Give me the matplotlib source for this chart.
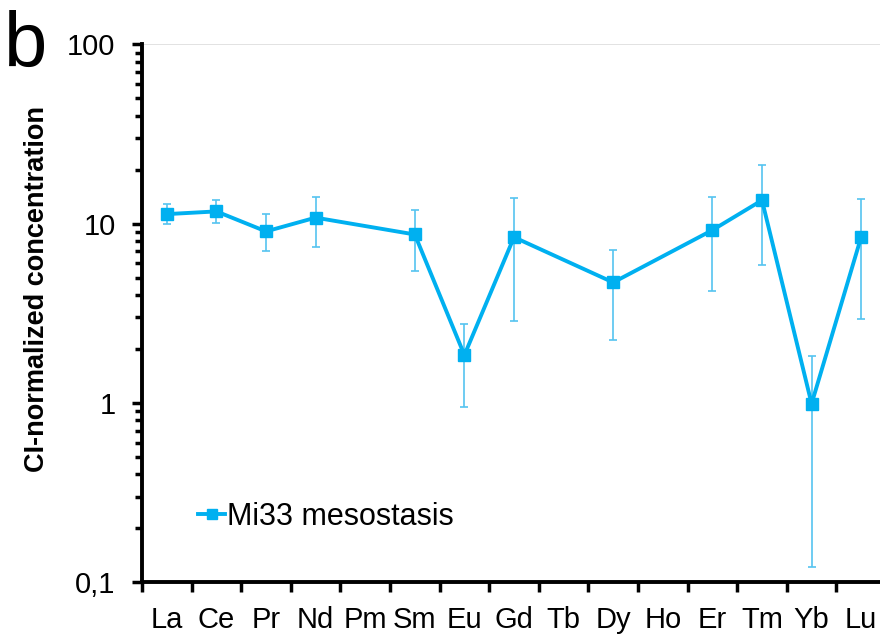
import numpy as np
import matplotlib
matplotlib.use("Agg")
from matplotlib import pyplot as plt
from matplotlib.ticker import FixedLocator, NullFormatter, LogLocator

plt.rcParams['font.family'] = ['Liberation Sans', 'DejaVu Sans']

elements = ["La", "Ce", "Pr", "Nd", "Pm", "Sm", "Eu", "Gd", "Tb", "Dy", "Ho", "Er", "Tm", "Yb", "Lu"]
# CI-normalized values (None = not measured)
conc = [11.3, 11.7, 9.05, 10.8, None, 8.7, 1.85, 8.4, None, 4.7, None, 9.2, 13.5, 0.99, 8.44]
err_hi = [12.8, 13.5, 11.3, 14.0, None, 11.9, 2.74, 13.9, None, 7.1, None, 14.1, 21.2, 1.83, 13.7]
err_lo = [9.9, 10.1, 7.03, 7.43, None, 5.46, 0.95, 2.87, None, 2.24, None, 4.22, 5.87, 0.122, 2.94]
label = "Mi33 mesostasis"

blue = "#00B0F0"

idx = np.array([i for i, v in enumerate(conc) if v is not None])
y = np.array([conc[i] for i in idx])
hi = np.array([err_hi[i] for i in idx])
lo = np.array([err_lo[i] for i in idx])

fig = plt.figure(figsize=(8.8, 6.36), dpi=100)
ax = fig.add_axes([142 / 880, 1 - 582.3 / 636, 744 / 880, (582.3 - 44.3) / 636])

ax.axhline(100, color="#DDDDDD", lw=1.2, zorder=0)
ax.errorbar(idx, y, yerr=[y - lo, hi - y], fmt="none", ecolor="#55C4F0",
            elinewidth=1.2, capsize=3, capthick=1.2, zorder=2)
ax.plot(idx, y, color=blue, lw=2.8, marker="s", markersize=8, label=label, zorder=3)

ax.set_yscale("log")
ax.set_ylim(0.1, 100)
ax.set_xlim(-0.5, len(elements) - 0.5)

ax.set_yticks([0.1, 1, 10, 100])
ax.set_yticklabels(["0,1", "1", "10", "100"])
ax.yaxis.set_minor_locator(LogLocator(base=10, subs=np.arange(2, 10)))
ax.yaxis.set_minor_formatter(NullFormatter())

ax.set_xticks(range(len(elements)))
ax.set_xticklabels(elements)
ax.xaxis.set_minor_locator(FixedLocator(np.arange(-0.5, len(elements), 1)))

ax.tick_params(axis="x", which="major", length=0, pad=17, labelsize=21)
ax.tick_params(axis="x", which="minor", length=7, width=2.5, direction="out")
ax.tick_params(axis="y", which="major", length=7, width=2.5, pad=12, labelsize=21)
ax.tick_params(axis="y", which="minor", length=5, width=2.5)

for side in ["top", "right"]:
    ax.spines[side].set_visible(False)
for side in ["left", "bottom"]:
    ax.spines[side].set_linewidth(2.8)

ax.set_ylabel("CI-normalized concentration", fontsize=19.5, fontweight="bold")
ax.yaxis.set_label_coords(-0.124, 0.545)

ax.legend(loc="center left", bbox_to_anchor=(0.075, 0.122), frameon=False, fontsize=22,
          borderpad=0, borderaxespad=0, handlelength=0.9, handletextpad=0.05,
          markerscale=0.85)

fig.text(0.005, 0.985, "b", fontsize=56, va="top", ha="left")

fig.savefig("out.png", dpi=100)
